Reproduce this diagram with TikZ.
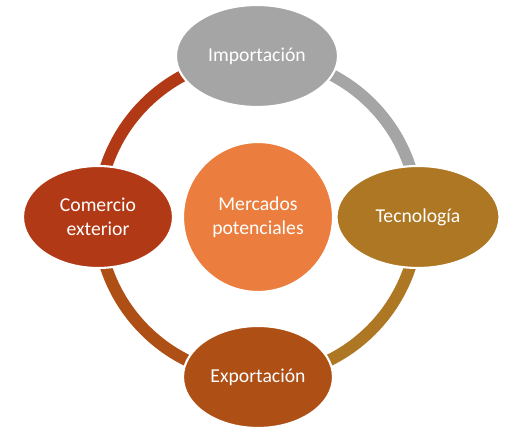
\documentclass[tikz,border=0pt]{standalone}
\usepackage{fontspec}
\setmainfont{Carlito}
\usetikzlibrary{shapes.geometric}
\definecolor{gris}{HTML}{A5A5A5}
\definecolor{ocre}{HTML}{AE7724}
\definecolor{cobre}{HTML}{AE5016}
\definecolor{rojizo}{HTML}{B23915}
\definecolor{naranja}{HTML}{EB7E3E}

\begin{document}
\begin{tikzpicture}[x=0.02cm,y=0.02cm,
    anillo/.style={line width=0.24cm},
    elipse/.style={ellipse,draw=white,line width=1.2pt,inner sep=0pt,
      minimum height=2.04cm,text=white,align=center,
      font=\fontsize{11.2}{13.5}\selectfont}]
  \useasboundingbox (0,0) rectangle (508,429);
  \coordinate (centro) at (258,212);
  % anillo por tramos
  \draw[anillo,gris] (centro) ++(90:160) arc[start angle=90,end angle=0,radius=160];
  \draw[anillo,ocre] (centro) ++(0:160) arc[start angle=0,end angle=-90,radius=160];
  \draw[anillo,cobre] (centro) ++(-90:160) arc[start angle=-90,end angle=-180,radius=160];
  \draw[anillo,rojizo] (centro) ++(180:160) arc[start angle=180,end angle=90,radius=160];
  % nodos
  \node[elipse,fill=gris,minimum width=3.24cm] (imp) at (257,373) {Importación};
  \node[elipse,fill=ocre,minimum width=3.26cm] (tec) at (418,212) {Tecnología};
  \node[elipse,fill=cobre,minimum width=3.0cm] (exp) at (258,52) {Exportación};
  \node[elipse,fill=rojizo,minimum width=3.0cm] (com) at (98,212) {Comercio\\exterior};
  \node[elipse,circle,fill=naranja,minimum size=3.0cm] (merc) at (centro) {Mercados\\potenciales};
\end{tikzpicture}
\end{document}
